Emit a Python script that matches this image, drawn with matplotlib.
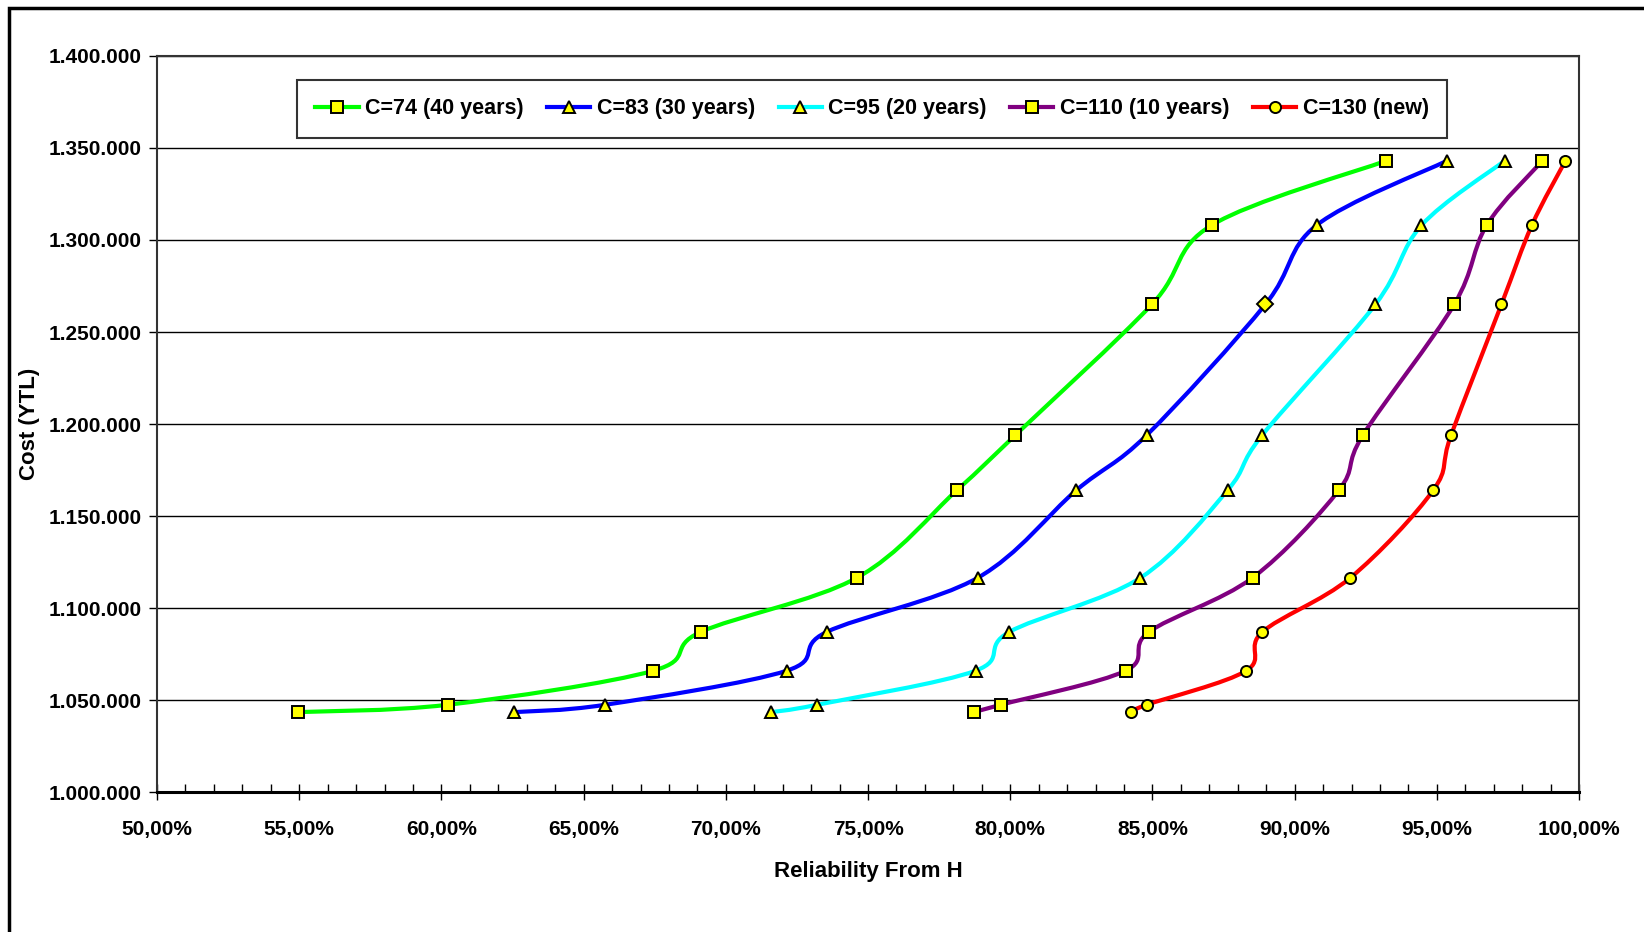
import numpy as np
import matplotlib.pyplot as plt
from matplotlib.path import Path
from matplotlib.patches import PathPatch, Rectangle
from matplotlib.lines import Line2D
from matplotlib.ticker import FuncFormatter, MultipleLocator

plt.rcParams['font.family'] = ['Liberation Sans Narrow', 'Liberation Sans', 'DejaVu Sans']
plt.rcParams['font.weight'] = 'bold'

# cost levels shared by all curves
cost = [1043500, 1047500, 1066000, 1087000, 1116500, 1164000, 1194000, 1265000, 1308000, 1343000]

rel_c74 = [54.94, 60.22, 67.45, 69.11, 74.61, 78.12, 80.18, 84.98, 87.08, 93.21]
rel_c83 = [62.55, 65.76, 72.14, 73.54, 78.86, 82.32, 84.80, 88.97, 90.77, 95.35]
rel_c95 = [71.59, 73.21, 78.78, 79.96, 84.58, 87.64, 88.86, 92.84, 94.46, 97.38]
rel_c110 = [78.71, 79.67, 84.06, 84.87, 88.52, 91.55, 92.40, 95.61, 96.75, 98.71]
rel_c130 = [84.24, 84.80, 88.30, 88.86, 91.96, 94.87, 95.50, 97.27, 98.34, 99.52]

labels = ['C=74 (40 years)', 'C=83 (30 years)', 'C=95 (20 years)', 'C=110 (10 years)', 'C=130 (new)']
colors = ['#00FF00', '#0000FF', '#00FFFF', '#800080', '#FF0000']
markers = ['s', '^', '^', 's', 'o']
series = [rel_c74, rel_c83, rel_c95, rel_c110, rel_c130]


def smooth_path(x, y):
    # Excel-like smoothed line: cubic Bezier through every point
    p = np.column_stack([x, y]).astype(float)
    n = len(p)
    verts = [p[0]]
    codes = [Path.MOVETO]
    for i in range(n - 1):
        p0 = p[i - 1] if i > 0 else p[i]
        p3 = p[i + 2] if i + 2 < n else p[i + 1]
        c1 = p[i] + (p[i + 1] - p0) / 6.0
        c2 = p[i + 1] - (p3 - p[i]) / 6.0
        verts += [c1, c2, p[i + 1]]
        codes += [Path.CURVE4] * 3
    return Path(verts, codes)


fig = plt.figure(figsize=(16.44, 9.32), dpi=100)
ax = fig.add_axes([0.0955, 0.150, 0.8650, 0.790])

handles = []
for xs, col, mk, lab in zip(series, colors, markers, labels):
    ax.add_patch(PathPatch(smooth_path(xs, cost), fill=False, edgecolor=col,
                           lw=3.0, zorder=3, capstyle='round', joinstyle='round'))
    ms = 8.5 if mk == '^' else 8
    every = list(range(len(xs)))
    if xs is rel_c83:
        every.remove(7)
    ax.plot(xs, cost, ls='none', marker=mk, ms=ms, mfc='#FFFF00', mec='black',
            mew=1.4, markevery=every, zorder=4)
    handles.append(Line2D([], [], color=col, lw=3.0, marker=mk, ms=ms,
                          mfc='#FFFF00', mec='black', mew=1.4, label=lab))

# one point of the C=83 curve is drawn as a diamond
ax.plot([rel_c83[7]], [cost[7]], ls='none', marker='D', ms=8, mfc='#FFFF00',
        mec='black', mew=1.4, zorder=4)

ax.set_xlim(50, 100)
ax.set_ylim(1000000, 1400000)
ax.xaxis.set_major_locator(MultipleLocator(5))
ax.xaxis.set_minor_locator(MultipleLocator(1))
ax.yaxis.set_major_locator(MultipleLocator(50000))
ax.xaxis.set_major_formatter(FuncFormatter(lambda v, p: f'{v:.2f}'.replace('.', ',') + '%'))
ax.yaxis.set_major_formatter(FuncFormatter(lambda v, p: f'{int(round(v)):,}'.replace(',', '.')))
ax.tick_params(axis='x', which='major', direction='inout', length=12, width=1.0,
               labelsize=15, pad=14)
ax.tick_params(axis='x', which='minor', direction='in', length=6, width=1.0)
ax.tick_params(axis='y', which='major', direction='out', length=6, width=1.0,
               labelsize=15, pad=5)
ax.grid(axis='y', color='black', lw=1.0, zorder=1)
ax.set_axisbelow(True)
for s in ['top', 'right', 'left']:
    ax.spines[s].set_color('#333333')
    ax.spines[s].set_linewidth(1.5)
ax.spines['bottom'].set_linewidth(2.2)

ax.set_xlabel('Reliability From H', fontsize=16, fontweight='bold', labelpad=16)
ax.set_ylabel('Cost (YTL)', fontsize=16, fontweight='bold', labelpad=6)

leg = ax.legend(handles=handles, loc='upper left', bbox_to_anchor=(0.091, 0.982),
                ncol=5, frameon=True, fancybox=False, fontsize=15.5,
                handlelength=2.0, handletextpad=0.3, columnspacing=1.1,
                borderpad=0.85, edgecolor='black')
leg.get_frame().set_linewidth(1.5)

# outer chart border (right and bottom lie outside the picture)
fig.patches.append(Rectangle((8.5 / 1644, -0.05), 1.2, 1.05 - 8.0 / 932, fill=False,
                             lw=2.5, edgecolor='black', transform=fig.transFigure))

fig.savefig('out.png', dpi=100)
